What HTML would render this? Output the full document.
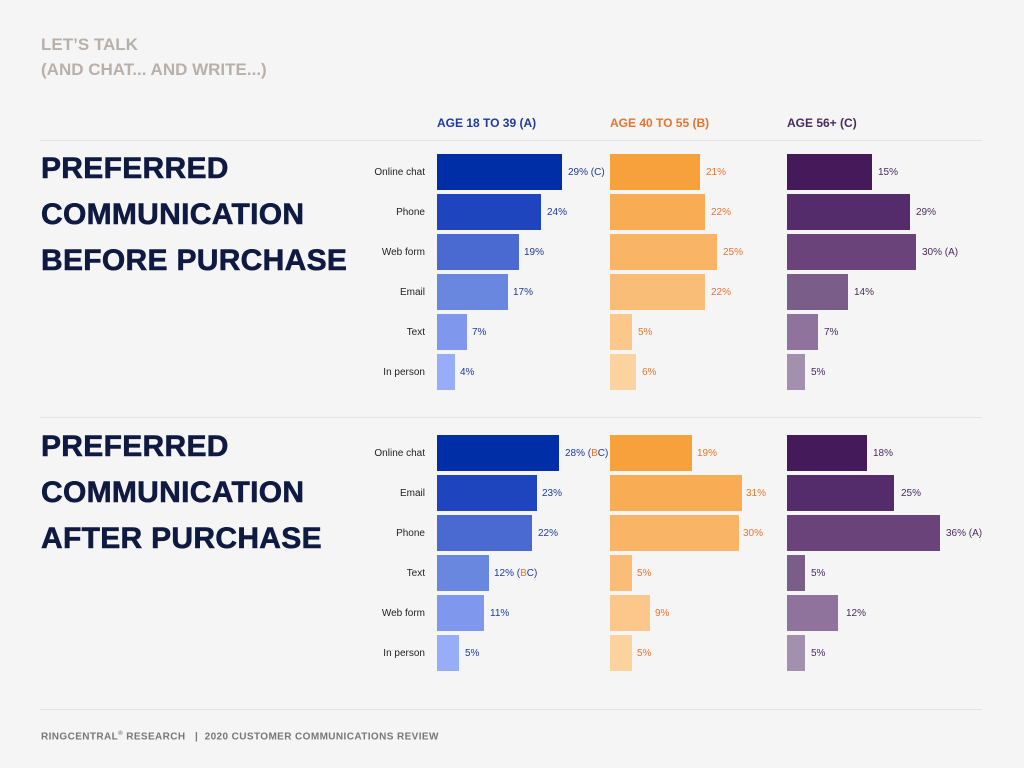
<!DOCTYPE html>
<html><head><meta charset="utf-8"><style>
*{margin:0;padding:0;box-sizing:border-box}
body{width:1024px;height:768px;background:#f5f5f5;position:relative;overflow:hidden;font-family:"Liberation Sans",sans-serif}
.a{position:absolute;white-space:nowrap}
.kick{left:41px;color:#b8b0aa;font-weight:bold;font-size:17px}
.big{left:41px;color:#0f1a42;font-weight:bold;font-size:30px;letter-spacing:0.3px;-webkit-text-stroke:0.6px #0f1a42}
.hd{top:116px;font-weight:bold;font-size:12px}
.ln{height:1px;background:#e3e3e3;left:40px;width:942px}
.lb{right:599px;font-size:10px;color:#222;width:100px;text-align:right}
.b{height:36px}
.v{font-size:10px}
.va{color:#1e3aa0}.vb{color:#e8742c}.vc{color:#4a2a60}
.ft{top:731px;left:41px;font-size:10px;font-weight:bold;color:#777;letter-spacing:0.4px}
</style></head><body>
<div class="a kick" style="top:35px">LET’S TALK</div>
<div class="a kick" style="top:60px">(AND CHAT... AND WRITE...)</div>
<div class="a hd" style="left:437px;color:#1e3aa0">AGE 18 TO 39 (A)</div>
<div class="a hd" style="left:610px;color:#e8742c">AGE 40 TO 55 (B)</div>
<div class="a hd" style="left:787px;color:#4a2a60">AGE 56+ (C)</div>
<div class="a ln" style="top:140px"></div>
<div class="a ln" style="top:417px"></div>
<div class="a ln" style="top:709px"></div>

<div class="a big" style="top:152px">PREFERRED</div>
<div class="a big" style="top:198px">COMMUNICATION</div>
<div class="a big" style="top:244px">BEFORE PURCHASE</div>
<div class="a big" style="top:430px">PREFERRED</div>
<div class="a big" style="top:476px">COMMUNICATION</div>
<div class="a big" style="top:522px">AFTER PURCHASE</div>

<div class="a lb" style="top:167px">Online chat</div>
<div class="a lb" style="top:207px">Phone</div>
<div class="a lb" style="top:247px">Web form</div>
<div class="a lb" style="top:287px">Email</div>
<div class="a lb" style="top:327px">Text</div>
<div class="a lb" style="top:367px">In person</div>
<div class="a b" style="top:154px;left:437px;width:125px;background:#002ea6"></div><div class="a v va" style="top:167px;left:568px">29% (C)</div>
<div class="a b" style="top:194px;left:437px;width:104px;background:#1e45bd"></div><div class="a v va" style="top:207px;left:547px">24%</div>
<div class="a b" style="top:234px;left:437px;width:82px;background:#4a6ad1"></div><div class="a v va" style="top:247px;left:524px">19%</div>
<div class="a b" style="top:274px;left:437px;width:71px;background:#6a87e0"></div><div class="a v va" style="top:287px;left:513px">17%</div>
<div class="a b" style="top:314px;left:437px;width:30px;background:#7f98ee"></div><div class="a v va" style="top:327px;left:472px">7%</div>
<div class="a b" style="top:354px;left:437px;width:18px;background:#98adf8"></div><div class="a v va" style="top:367px;left:460px">4%</div>
<div class="a b" style="top:154px;left:610px;width:90px;background:#f6a13b"></div><div class="a v vb" style="top:167px;left:706px">21%</div>
<div class="a b" style="top:194px;left:610px;width:95px;background:#f8ad55"></div><div class="a v vb" style="top:207px;left:711px">22%</div>
<div class="a b" style="top:234px;left:610px;width:107px;background:#f9b465"></div><div class="a v vb" style="top:247px;left:723px">25%</div>
<div class="a b" style="top:274px;left:610px;width:95px;background:#fabd78"></div><div class="a v vb" style="top:287px;left:711px">22%</div>
<div class="a b" style="top:314px;left:610px;width:22px;background:#fbc78a"></div><div class="a v vb" style="top:327px;left:638px">5%</div>
<div class="a b" style="top:354px;left:610px;width:26px;background:#fcd29f"></div><div class="a v vb" style="top:367px;left:642px">6%</div>
<div class="a b" style="top:154px;left:787px;width:85px;background:#451a5a"></div><div class="a v vc" style="top:167px;left:878px">15%</div>
<div class="a b" style="top:194px;left:787px;width:123px;background:#542c6c"></div><div class="a v vc" style="top:207px;left:916px">29%</div>
<div class="a b" style="top:234px;left:787px;width:129px;background:#694379"></div><div class="a v vc" style="top:247px;left:922px">30% (A)</div>
<div class="a b" style="top:274px;left:787px;width:61px;background:#7b5d8a"></div><div class="a v vc" style="top:287px;left:854px">14%</div>
<div class="a b" style="top:314px;left:787px;width:31px;background:#8f739c"></div><div class="a v vc" style="top:327px;left:824px">7%</div>
<div class="a b" style="top:354px;left:787px;width:18px;background:#a38fae"></div><div class="a v vc" style="top:367px;left:811px">5%</div>

<div class="a lb" style="top:448px">Online chat</div>
<div class="a lb" style="top:488px">Email</div>
<div class="a lb" style="top:528px">Phone</div>
<div class="a lb" style="top:568px">Text</div>
<div class="a lb" style="top:608px">Web form</div>
<div class="a lb" style="top:648px">In person</div>
<div class="a b" style="top:435px;left:437px;width:122px;background:#002ea6"></div><div class="a v va" style="top:448px;left:565px">28% (<span class="vb">B</span>C)</div>
<div class="a b" style="top:475px;left:437px;width:100px;background:#1e45bd"></div><div class="a v va" style="top:488px;left:542px">23%</div>
<div class="a b" style="top:515px;left:437px;width:95px;background:#4a6ad1"></div><div class="a v va" style="top:528px;left:538px">22%</div>
<div class="a b" style="top:555px;left:437px;width:52px;background:#6a87e0"></div><div class="a v va" style="top:568px;left:494px">12% (<span class="vb">B</span>C)</div>
<div class="a b" style="top:595px;left:437px;width:47px;background:#7f98ee"></div><div class="a v va" style="top:608px;left:490px">11%</div>
<div class="a b" style="top:635px;left:437px;width:22px;background:#98adf8"></div><div class="a v va" style="top:648px;left:465px">5%</div>
<div class="a b" style="top:435px;left:610px;width:82px;background:#f6a13b"></div><div class="a v vb" style="top:448px;left:697px">19%</div>
<div class="a b" style="top:475px;left:610px;width:132px;background:#f8ad55"></div><div class="a v vb" style="top:488px;left:746px">31%</div>
<div class="a b" style="top:515px;left:610px;width:129px;background:#f9b465"></div><div class="a v vb" style="top:528px;left:743px">30%</div>
<div class="a b" style="top:555px;left:610px;width:22px;background:#fabd78"></div><div class="a v vb" style="top:568px;left:637px">5%</div>
<div class="a b" style="top:595px;left:610px;width:40px;background:#fbc78a"></div><div class="a v vb" style="top:608px;left:655px">9%</div>
<div class="a b" style="top:635px;left:610px;width:22px;background:#fcd29f"></div><div class="a v vb" style="top:648px;left:637px">5%</div>
<div class="a b" style="top:435px;left:787px;width:80px;background:#451a5a"></div><div class="a v vc" style="top:448px;left:873px">18%</div>
<div class="a b" style="top:475px;left:787px;width:107px;background:#542c6c"></div><div class="a v vc" style="top:488px;left:901px">25%</div>
<div class="a b" style="top:515px;left:787px;width:153px;background:#694379"></div><div class="a v vc" style="top:528px;left:946px">36% (A)</div>
<div class="a b" style="top:555px;left:787px;width:18px;background:#7b5d8a"></div><div class="a v vc" style="top:568px;left:811px">5%</div>
<div class="a b" style="top:595px;left:787px;width:51px;background:#8f739c"></div><div class="a v vc" style="top:608px;left:846px">12%</div>
<div class="a b" style="top:635px;left:787px;width:18px;background:#a38fae"></div><div class="a v vc" style="top:648px;left:811px">5%</div>

<div class="a ft">RINGCENTRAL<sup style="font-size:6px">®</sup> RESEARCH &nbsp;&nbsp;|&nbsp; 2020 CUSTOMER COMMUNICATIONS REVIEW</div>
</body></html>
